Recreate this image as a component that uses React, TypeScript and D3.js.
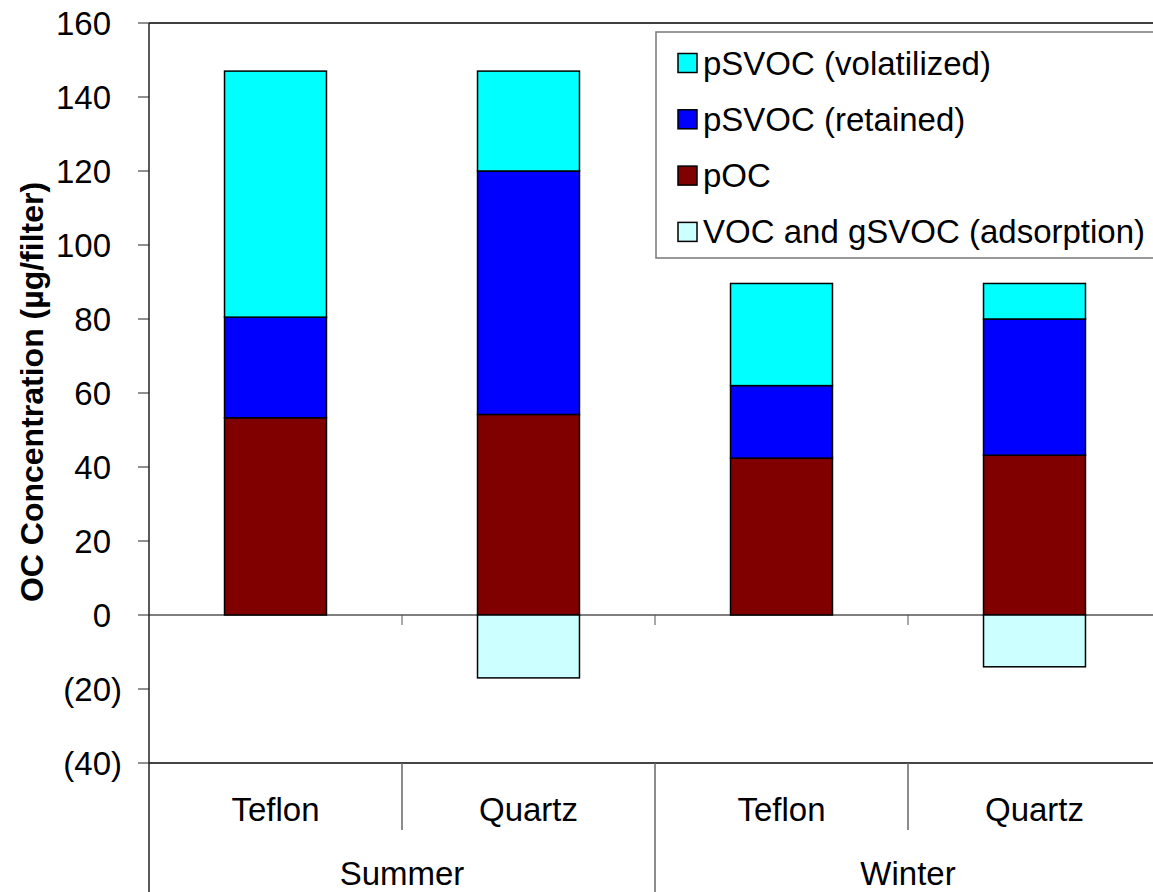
import React from "react";
import * as d3 from "d3";

const seasons = ["Summer", "Winter"];
const filters = ["Teflon", "Quartz", "Teflon", "Quartz"];
const keys = ["S-Teflon", "S-Quartz", "W-Teflon", "W-Quartz"];
const seriesNames = ["pSVOC (volatilized)", "pSVOC (retained)", "pOC", "VOC and gSVOC (adsorption)"];
const seriesColors = ["#00FFFF", "#0000FF", "#800000", "#CCFFFF"];
const pOC = [53.3, 54.2, 42.4, 43.2];
const retained = [27.2, 65.8, 19.6, 36.8];
const volatilized = [66.5, 27.0, 27.6, 9.6];
const adsorption = [0, -17, 0, -14];
const yTicks = [-40, -20, 0, 20, 40, 60, 80, 100, 120, 140, 160];

const W = 1153;
const H = 892;
const left = 149;
const right = 1161;
const top = 23;
const bottom = 763;
const FONT = "'Liberation Sans', Arial, sans-serif";
const FS = 33;

export default function App() {
  const y = d3.scaleLinear().domain([-40, 160]).range([bottom, top]);
  const x = d3
    .scaleBand<string>()
    .domain(keys)
    .range([left, right])
    .paddingInner(0.597)
    .paddingOuter(0.2985);
  const step = x.step();
  const groupStart = (i: number) => left + i * step;

  const rows = keys.map((k, i) => ({
    key: k,
    pOC: pOC[i],
    retained: retained[i],
    volatilized: volatilized[i],
  }));
  const stack = d3.stack<any>().keys(["pOC", "retained", "volatilized"]);
  const stacked = stack(rows);
  const stackColor: Record<string, string> = {
    pOC: seriesColors[2],
    retained: seriesColors[1],
    volatilized: seriesColors[0],
  };

  const fmt = (v: number) => (v < 0 ? `(${-v})` : `${v}`);
  const parenW = 0.333 * FS;

  return (
    <div style={{ position: "absolute", left: 0, top: 0 }}>
      <svg width={W} height={H} style={{ display: "block", background: "#fff" }} fontFamily={FONT}>
        <rect x={0} y={0} width={W} height={H} fill="#fff" />
        {/* plot top frame */}
        <line x1={left} x2={right} y1={top} y2={top} stroke="#000" strokeWidth={1.5} />
        {/* zero line */}
        <line x1={left} x2={right} y1={y(0)} y2={y(0)} stroke="#000" strokeWidth={1} />
        {/* bars */}
        {stacked.map((layer) =>
          layer.map((d, i) => (
            <rect
              key={layer.key + i}
              x={x(keys[i])!}
              width={x.bandwidth()}
              y={y(d[1])}
              height={y(d[0]) - y(d[1])}
              fill={stackColor[layer.key]}
              stroke="#000"
              strokeWidth={1.5}
            />
          ))
        )}
        {adsorption.map((v, i) =>
          v < 0 ? (
            <rect
              key={"ad" + i}
              x={x(keys[i])!}
              width={x.bandwidth()}
              y={y(0)}
              height={y(v) - y(0)}
              fill={seriesColors[3]}
              stroke="#000"
              strokeWidth={1.5}
            />
          ) : null
        )}
        {/* x ticks at zero line */}
        {[1, 2, 3].map((i) => (
          <line key={"zt" + i} x1={groupStart(i)} x2={groupStart(i)} y1={y(0)} y2={y(0) + 10} stroke="#555" strokeWidth={1} />
        ))}
        {/* bottom axis line */}
        <line x1={left} x2={right} y1={bottom} y2={bottom} stroke="#444" strokeWidth={2} />
        {/* left axis */}
        <line x1={left} x2={left} y1={top} y2={H} stroke="#222" strokeWidth={1.5} />
        {yTicks.map((t) => (
          <g key={"yt" + t}>
            <line x1={left - 11} x2={left} y1={y(t)} y2={y(t)} stroke="#222" strokeWidth={1} />
            <text
              x={t < 0 ? 122 : 122 - parenW}
              y={y(t)}
              dy="0.35em"
              textAnchor="end"
              fontSize={FS}
              fill="#000"
            >
              {fmt(t)}
            </text>
          </g>
        ))}
        {/* category dividers */}
        {[1, 3].map((i) => (
          <line key={"cd" + i} x1={groupStart(i)} x2={groupStart(i)} y1={bottom} y2={830} stroke="#666" strokeWidth={1.5} />
        ))}
        <line x1={groupStart(2)} x2={groupStart(2)} y1={bottom} y2={H} stroke="#666" strokeWidth={1.5} />
        {/* filter labels */}
        {filters.map((f, i) => (
          <text
            key={"fl" + i}
            x={x(keys[i])! + x.bandwidth() / 2}
            y={821}
            textAnchor="middle"
            fontSize={FS}
            fill="#000"
          >
            {f}
          </text>
        ))}
        {seasons.map((s, i) => (
          <text
            key={"sl" + i}
            x={groupStart(i * 2 + 1)}
            y={885}
            textAnchor="middle"
            fontSize={FS}
            fill="#000"
          >
            {s}
          </text>
        ))}
        {/* y title */}
        <text
          transform={`translate(43, 392) rotate(-90)`}
          textAnchor="middle"
          fontSize={32}
          fontWeight="bold"
          fill="#000"
        >
          OC Concentration (µg/filter)
        </text>
        {/* legend */}
        <rect x={656} y={32} width={520} height={226} fill="#fff" stroke="#777" strokeWidth={1.5} />
        {seriesNames.map((n, i) => {
          const cy = 63 + i * 56.3;
          return (
            <g key={"lg" + i}>
              <rect x={678} y={cy - 9.5} width={19} height={19} fill={seriesColors[i]} stroke="#000" strokeWidth={1.5} />
              <text x={703} y={cy} dy="0.35em" fontSize={FS} fill="#000">
                {n}
              </text>
            </g>
          );
        })}
      </svg>
    </div>
  );
}
